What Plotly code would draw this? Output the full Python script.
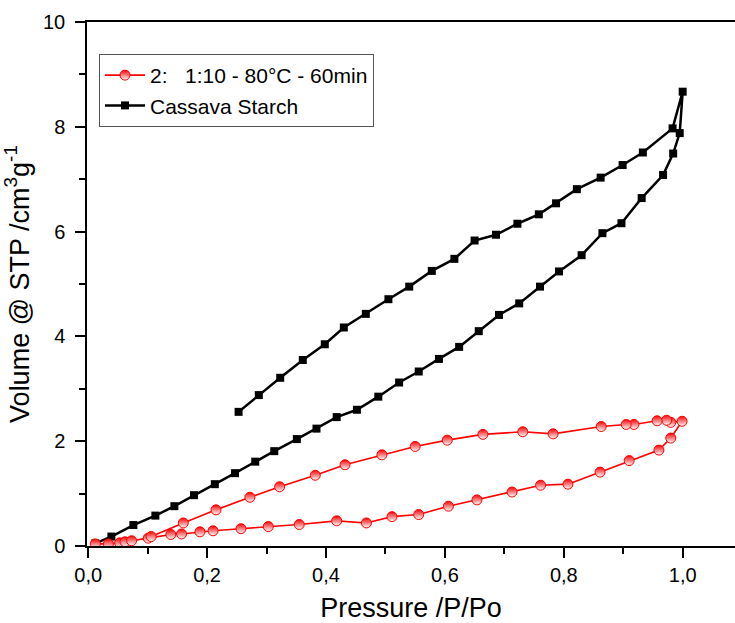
import plotly.graph_objects as go

# Red sample: 2: 1:10 - 80°C - 60min  (adsorption then desorption)
red_x = [0.012, 0.034, 0.053, 0.062, 0.073, 0.101, 0.139, 0.157, 0.188, 0.210,
         0.257, 0.303, 0.355, 0.418, 0.468, 0.511, 0.556, 0.606, 0.654, 0.713,
         0.761, 0.807, 0.861, 0.910, 0.960, 0.980, 0.999,
         0.980, 0.973, 0.957, 0.918, 0.905, 0.863, 0.782, 0.731, 0.664, 0.604,
         0.550, 0.494, 0.432, 0.382, 0.322, 0.272, 0.215, 0.160, 0.106]
red_y = [0.04, 0.04, 0.06, 0.08, 0.10, 0.15, 0.22, 0.23, 0.27, 0.29,
         0.33, 0.37, 0.41, 0.48, 0.44, 0.56, 0.60, 0.76, 0.88, 1.03,
         1.16, 1.18, 1.41, 1.63, 1.83, 2.06, 2.38,
         2.36, 2.40, 2.39, 2.32, 2.32, 2.28, 2.14, 2.18, 2.13, 2.02,
         1.90, 1.74, 1.55, 1.35, 1.13, 0.93, 0.69, 0.44, 0.18]

# Black: Cassava Starch (adsorption then desorption)
blk_x = [0.012, 0.039, 0.076, 0.113, 0.145, 0.178, 0.213, 0.247, 0.281, 0.313,
         0.351, 0.384, 0.418, 0.452, 0.488, 0.523, 0.556, 0.590, 0.624, 0.657,
         0.691, 0.725, 0.760, 0.792, 0.830, 0.865, 0.897, 0.931, 0.967, 0.984,
         0.995, 1.000,
         0.983, 0.933, 0.899, 0.862, 0.822, 0.787, 0.758, 0.722, 0.686, 0.650,
         0.616, 0.578, 0.540, 0.505, 0.467, 0.430, 0.398, 0.361, 0.323, 0.287,
         0.253]
blk_y = [0.05, 0.18, 0.40, 0.58, 0.76, 0.97, 1.18, 1.39, 1.61, 1.81,
         2.04, 2.24, 2.46, 2.60, 2.85, 3.12, 3.33, 3.57, 3.80, 4.10,
         4.41, 4.63, 4.95, 5.24, 5.55, 5.97, 6.16, 6.64, 7.08, 7.49,
         7.88, 8.67,
         7.97, 7.51, 7.27, 7.03, 6.81, 6.54, 6.33, 6.15, 5.94, 5.83,
         5.48, 5.25, 4.95, 4.71, 4.43, 4.17, 3.85, 3.55, 3.21, 2.88,
         2.56]

red_name = "2:   1:10 - 80°C - 60min"
blk_name = "Cassava Starch"

FONT = "Liberation Sans, Arial, sans-serif"

fig = go.Figure()
fig.add_trace(go.Scatter(
    x=blk_x, y=blk_y, mode="lines+markers", name=blk_name,
    line=dict(color="black", width=2.5),
    marker=dict(symbol="square", size=8, color="black"),
))
fig.add_trace(go.Scatter(
    x=red_x, y=red_y, mode="lines+markers", name=red_name,
    line=dict(color="#ff0000", width=1.6),
    marker=dict(symbol="circle", size=10, color="#ff0000",
                gradient=dict(type="vertical", color="white"),
                line=dict(color="#ff0000", width=1)),
))

fig.update_layout(
    width=735, height=623,
    margin=dict(l=87, r=0, t=22, b=77),
    paper_bgcolor="white", plot_bgcolor="white",
    separators=",.",
    font=dict(family=FONT, size=20, color="black"),
    showlegend=True,
    legend=dict(
        x=0.0185, y=0.939, xanchor="left", yanchor="top",
        bgcolor="white", bordercolor="#555555", borderwidth=1,
        font=dict(family=FONT, size=21, color="black"),
        traceorder="reversed", tracegroupgap=0, itemwidth=40,
    ),
    xaxis=dict(
        range=[-0.002, 1.088],
        dtick=0.2, tick0=0, tickformat=".1f",
        ticks="outside", ticklen=10, tickwidth=1.5, tickcolor="black",
        ticklabelstandoff=0,
        minor=dict(dtick=0.1, ticks="outside", ticklen=6, tickcolor="black", tickwidth=1.5),
        showline=True, linecolor="black", linewidth=1.5, mirror=True,
        showgrid=False, zeroline=False,
        title=dict(text="Pressure /P/Po", font=dict(size=27), standoff=16),
    ),
    yaxis=dict(
        range=[0, 10],
        dtick=2, tick0=0,
        ticks="outside", ticklen=10, tickwidth=1.5, tickcolor="black",
        ticklabelstandoff=6,
        minor=dict(dtick=1, ticks="outside", ticklen=6, tickcolor="black", tickwidth=1.5),
        showline=True, linecolor="black", linewidth=1.5,
        showgrid=False, zeroline=False,
        title=dict(text="Volume @ STP /cm<sup>3</sup>g<sup>-1</sup>", font=dict(size=27), standoff=6),
    ),
)

fig.write_html("out.html")
